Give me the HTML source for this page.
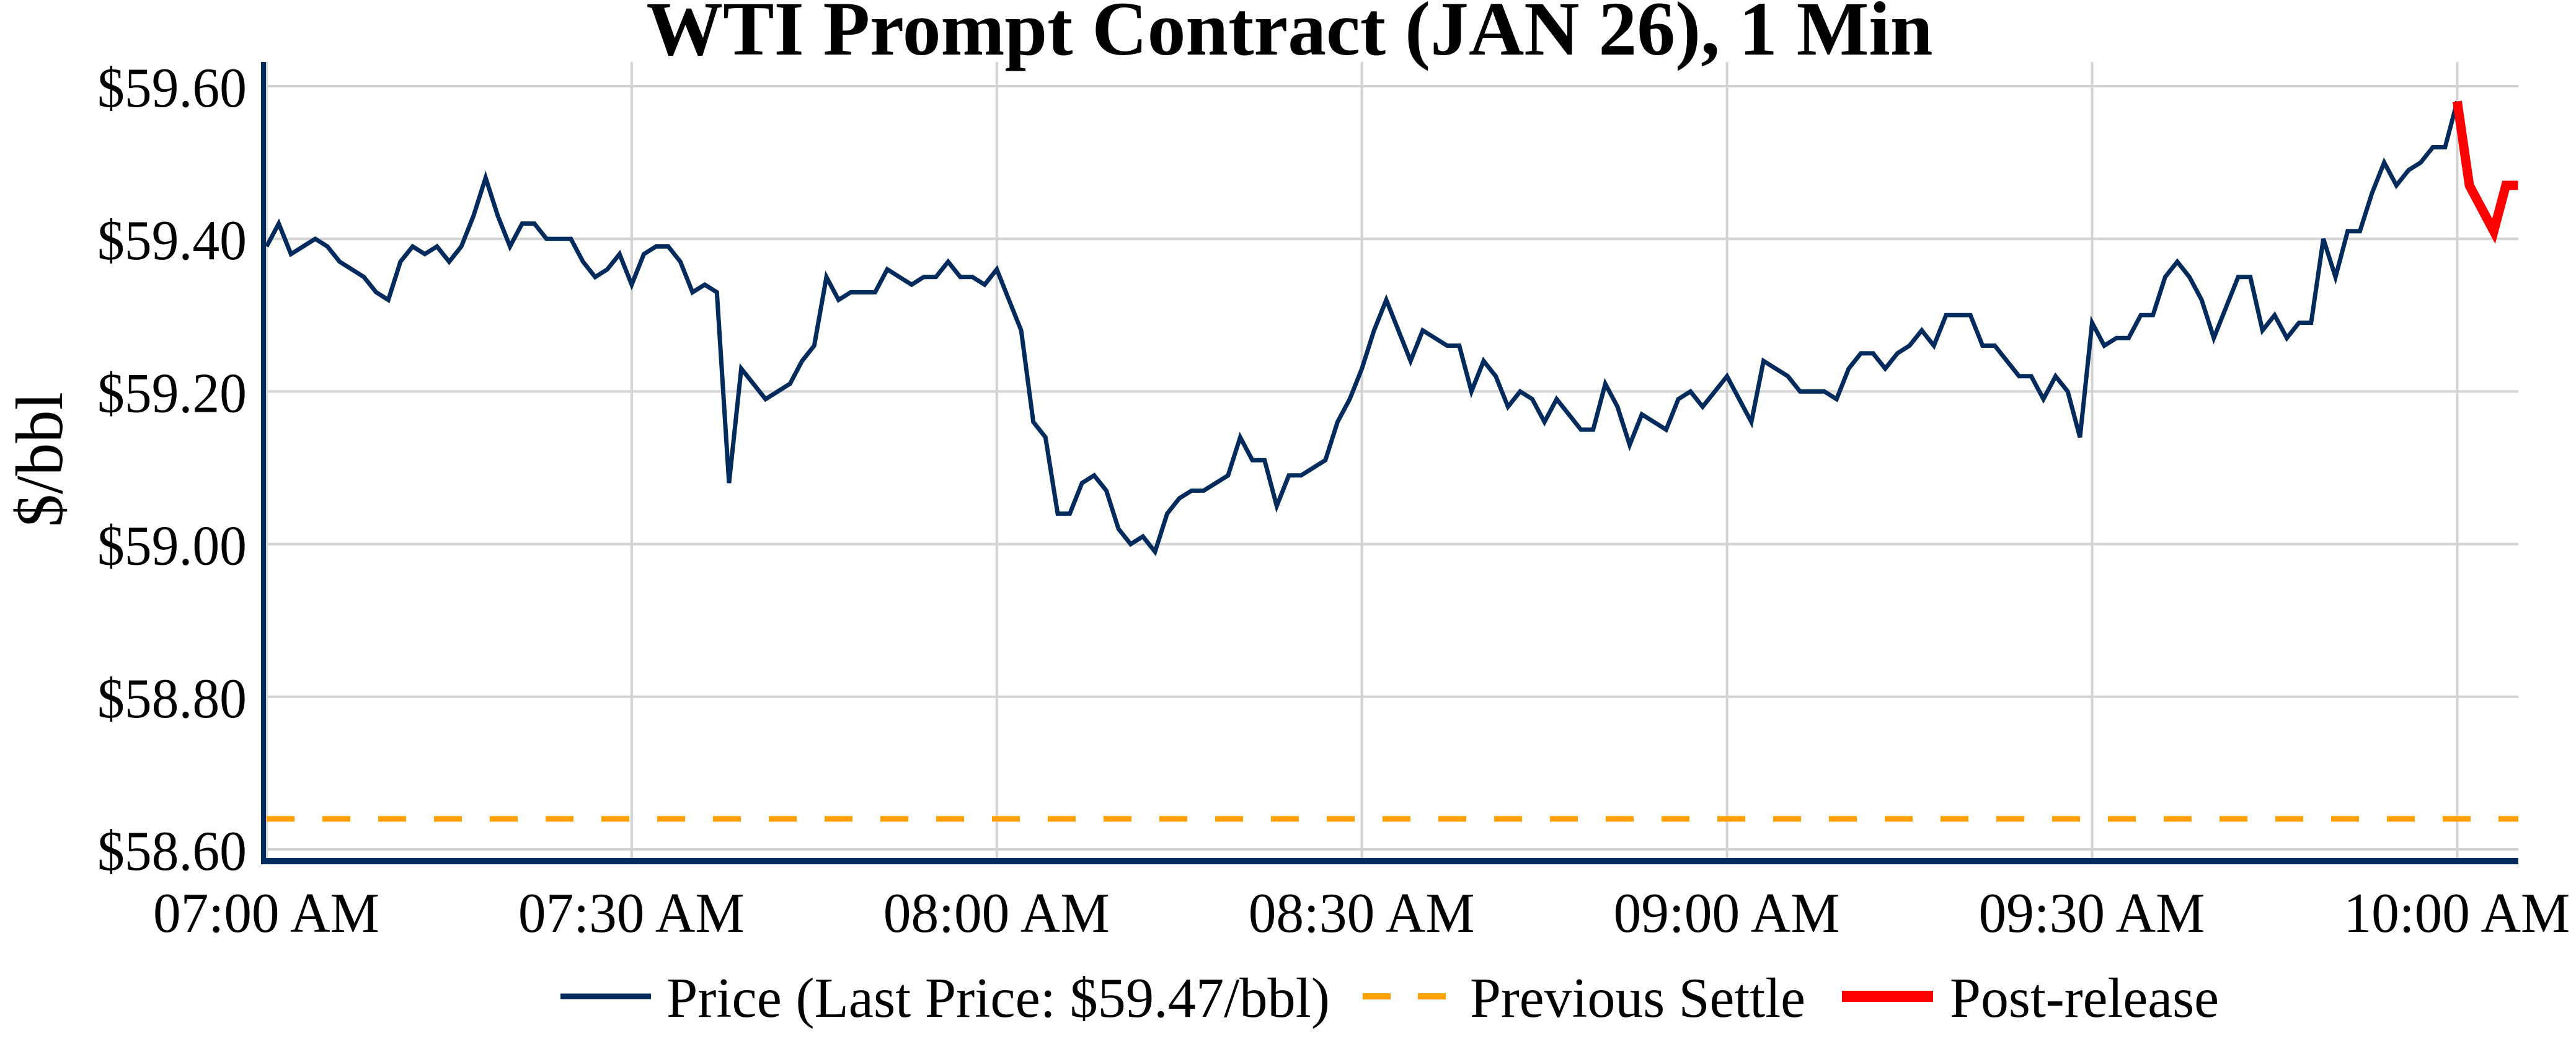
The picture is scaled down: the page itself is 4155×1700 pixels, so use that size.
<!DOCTYPE html>
<html><head><meta charset="utf-8"><style>
html,body{margin:0;padding:0;background:#fff;}
svg{display:block;font-family:"Liberation Serif",serif;}
</style></head><body>
<svg id="chart" width="4155" height="1700" viewBox="0 0 4155 1700" xmlns="http://www.w3.org/2000/svg">
<rect width="4155" height="1700" fill="#fff"/>
<text x="2080" y="88" text-anchor="middle" font-size="124" font-weight="bold" textLength="2075" lengthAdjust="spacingAndGlyphs">WTI Prompt Contract (JAN 26), 1 Min</text>
<g id="grid"></g>
<g id="ylabels"></g>
<g id="xlabels"></g>
<text transform="translate(100,741) rotate(-90)" text-anchor="middle" font-size="108" textLength="218" lengthAdjust="spacingAndGlyphs">$/bbl</text>
<g id="series"></g>
<line x1="425" y1="100" x2="425" y2="1394" stroke="#002b5c" stroke-width="8"/>
<line x1="421" y1="1389" x2="4062" y2="1389" stroke="#002b5c" stroke-width="10"/>
<g>
<line x1="904" y1="1607" x2="1050" y2="1607" stroke="#002b5c" stroke-width="9"/>
<text x="1075" y="1640" font-size="91" textLength="1070" lengthAdjust="spacingAndGlyphs">Price (Last Price: $59.47/bbl)</text>
<line x1="2198" y1="1607" x2="2332" y2="1607" stroke="#ffa000" stroke-width="10" stroke-dasharray="45,44"/>
<text x="2371" y="1640" font-size="91" textLength="541" lengthAdjust="spacingAndGlyphs">Previous Settle</text>
<line x1="2971" y1="1607" x2="3118" y2="1607" stroke="#ff0000" stroke-width="18"/>
<text x="3145" y="1640" font-size="91" textLength="434" lengthAdjust="spacingAndGlyphs">Post-release</text>
</g>
</svg>
<script>
const yTicks = [58.6, 58.8, 59.0, 59.2, 59.4, 59.6];
const yTickLabels = ["$58.60","$58.80","$59.00","$59.20","$59.40","$59.60"];
const xTicks = [0, 30, 60, 90, 120, 150, 180];
const xTickLabels = ["07:00 AM","07:30 AM","08:00 AM","08:30 AM","09:00 AM","09:30 AM","10:00 AM"];
const prevSettle = 58.64;
const priceStart = 0;
const prices = [
59.39,59.42,59.38,59.39,59.40,59.39,59.37,59.36,59.35,59.33,
59.32,59.37,59.39,59.38,59.39,59.37,59.39,59.43,59.48,59.43,
59.39,59.42,59.42,59.40,59.40,59.40,59.37,59.35,59.36,59.38,
59.34,59.38,59.39,59.39,59.37,59.33,59.34,59.33,59.08,59.23,
59.21,59.19,59.20,59.21,59.24,59.26,59.35,59.32,59.33,59.33,
59.33,59.36,59.35,59.34,59.35,59.35,59.37,59.35,59.35,59.34,
59.36,59.32,59.28,59.16,59.14,59.04,59.04,59.08,59.09,59.07,
59.02,59.00,59.01,58.99,59.04,59.06,59.07,59.07,59.08,59.09,
59.14,59.11,59.11,59.05,59.09,59.09,59.10,59.11,59.16,59.19,
59.23,59.28,59.32,59.28,59.24,59.28,59.27,59.26,59.26,59.20,
59.24,59.22,59.18,59.20,59.19,59.16,59.19,59.17,59.15,59.15,
59.21,59.18,59.13,59.17,59.16,59.15,59.19,59.20,59.18,59.20,
59.22,59.19,59.16,59.24,59.23,59.22,59.20,59.20,59.20,59.19,
59.23,59.25,59.25,59.23,59.25,59.26,59.28,59.26,59.30,59.30,
59.30,59.26,59.26,59.24,59.22,59.22,59.19,59.22,59.20,59.14,
59.29,59.26,59.27,59.27,59.30,59.30,59.35,59.37,59.35,59.32,
59.27,59.31,59.35,59.35,59.28,59.30,59.27,59.29,59.29,59.40,
59.35,59.41,59.41,59.46,59.50,59.47,59.49,59.50,59.52,59.52,59.58];
const postStart = 180;
const postPrices = [59.58,59.47,59.44,59.41,59.47,59.47];

const NS = "http://www.w3.org/2000/svg";
const X0 = 430, PXMIN = 19.63, XMAXPX = 4062;
const Y_TOP_VAL = 59.6, Y_TOP_PX = 139, PX_PER_DOLLAR = 1231;
function xScale(m){ return X0 + m * PXMIN; }
function yScale(v){ return Y_TOP_PX + (Y_TOP_VAL - v) * PX_PER_DOLLAR; }
function mk(tag, attrs, parent){
  const e = document.createElementNS(NS, tag);
  for (const k in attrs) e.setAttribute(k, attrs[k]);
  parent.appendChild(e);
  return e;
}
const grid = document.getElementById('grid');
const yl = document.getElementById('ylabels');
const xl = document.getElementById('xlabels');
const series = document.getElementById('series');

yTicks.forEach((v, i) => {
  const g = mk('line', {x1:425, x2:XMAXPX, y1:yScale(v), y2:yScale(v), stroke:'#d3d3d3', 'stroke-width':4}, grid);
  
  
  const t = mk('text', {x:157, y:yScale(v) + 33, 'font-size':91, textLength:241, lengthAdjust:'spacingAndGlyphs'}, yl);
  t.textContent = yTickLabels[i];
  
  
});
xTicks.forEach((m, i) => {
  const g = mk('line', {x1:xScale(m), x2:xScale(m), y1:100, y2:1389, stroke:'#d3d3d3', 'stroke-width':4}, grid);
  
  
  const t = mk('text', {x:xScale(m) - 183, y:1503, 'font-size':91, textLength:365, lengthAdjust:'spacingAndGlyphs'}, xl);
  t.textContent = xTickLabels[i];
  
  
});

const settle = mk('line', {x1:430, x2:XMAXPX, y1:yScale(prevSettle), y2:yScale(prevSettle), stroke:'#ffa000', 'stroke-width':9, 'stroke-dasharray':'45,45'}, series);



const pts = prices.map((v, i) => xScale(priceStart + i).toFixed(1) + ',' + yScale(v).toFixed(1)).join(' ');
const pl = mk('polyline', {points:pts, fill:'none', stroke:'#002b5c', 'stroke-width':7, 'stroke-linejoin':'miter'}, series);



const pts2 = postPrices.map((v, i) => xScale(postStart + i).toFixed(1) + ',' + yScale(v).toFixed(1)).join(' ');
const pl2 = mk('polyline', {points:pts2, fill:'none', stroke:'#ff0000', 'stroke-width':15, 'stroke-linejoin':'miter'}, series);


</script>
</body></html>
